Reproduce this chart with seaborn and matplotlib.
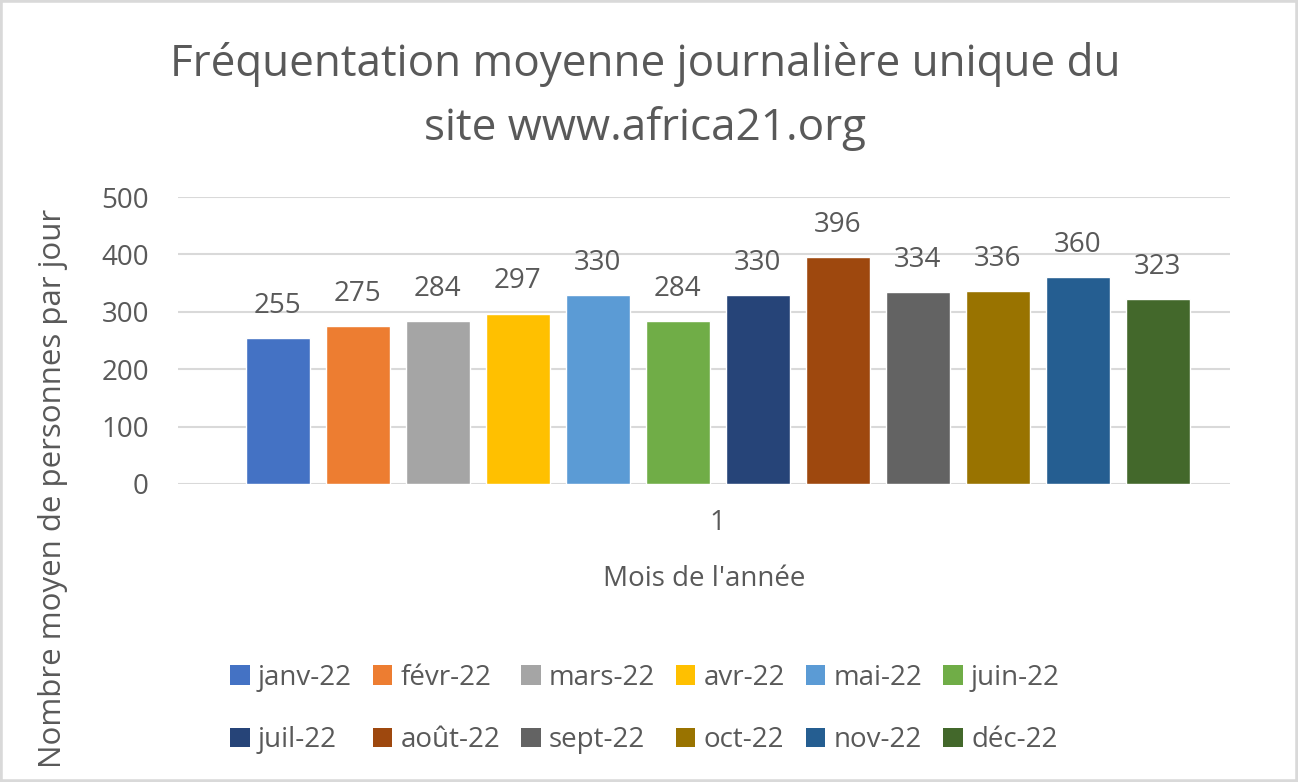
import matplotlib
matplotlib.use("Agg")
import matplotlib.pyplot as plt
from matplotlib.patches import Rectangle, Patch
import pandas as pd
import seaborn as sns

# ---------------- data ----------------
months = ["janv-22", "févr-22", "mars-22", "avr-22", "mai-22", "juin-22",
          "juil-22", "août-22", "sept-22", "oct-22", "nov-22", "déc-22"]
visitors = [255, 275, 284, 297, 330, 284, 330, 396, 334, 336, 360, 323]
colors = ["#4472C4", "#ED7D31", "#A5A5A5", "#FFC000", "#5B9BD5", "#70AD47",
          "#264478", "#9E480E", "#636363", "#997300", "#255E91", "#43682B"]
group = ["1"] * len(months)

TXT = "#595959"
GRID = "#D9D9D9"

sns.set_theme(style="white")
plt.rcParams["font.family"] = ["Open Sans", "DejaVu Sans"]

df = pd.DataFrame({"groupe": group, "mois": months, "valeur": visitors})

fig = plt.figure(figsize=(12.98, 7.82), dpi=100)
ax = fig.add_axes([178 / 1298, 298 / 782, 1052 / 1298, 287 / 782])

sns.barplot(data=df, x="groupe", y="valeur", hue="mois", hue_order=months,
            palette=colors, width=0.9125, gap=0.2, saturation=1,
            legend=False, ax=ax)

ax.set_xlim(-0.513, 0.487)
ax.set_ylim(0, 500)
ax.set_yticks(range(0, 501, 100))
ax.yaxis.grid(True, color=GRID, linewidth=1.5)
ax.set_axisbelow(True)
for s in ax.spines.values():
    s.set_visible(False)
ax.tick_params(axis="y", length=0, labelsize=20, colors=TXT, pad=21)
ax.tick_params(axis="x", length=0, labelsize=20, colors=TXT, pad=18)

for cont in ax.containers:
    ax.bar_label(cont, fmt="%d", padding=13, fontsize=20, color=TXT)

ax.set_xlabel("Mois de l'année", fontsize=20, color=TXT, labelpad=20)
ax.set_ylabel("Nombre moyen de personnes par jour", fontsize=22.5, color=TXT)
ax.yaxis.set_label_coords(-0.1046, -0.014)

fig.text(0.497, 1 - 42 / 782,
         "Fréquentation moyenne journalière unique du\nsite www.africa21.org",
         ha="center", va="top", fontsize=31.7, color=TXT, linespacing=1.55)

# legend filled row by row, as in the original
order = [i + r * 6 for i in range(6) for r in range(2)]
handles = [Patch(facecolor=colors[i], edgecolor="none") for i in order]
labels = [months[i] for i in order]
fig.legend(handles, labels, loc="center", ncol=6,
           bbox_to_anchor=(645 / 1298, 1 - 709 / 782), frameon=False,
           fontsize=20, labelcolor=TXT, handlelength=0.7, handleheight=0.7,
           handletextpad=0.3, columnspacing=0.75, labelspacing=1.25)

fig.patches.append(Rectangle((0, 0), 1, 1, transform=fig.transFigure,
                             fill=False, edgecolor=GRID, linewidth=4))

fig.savefig("out.png", dpi=100)
